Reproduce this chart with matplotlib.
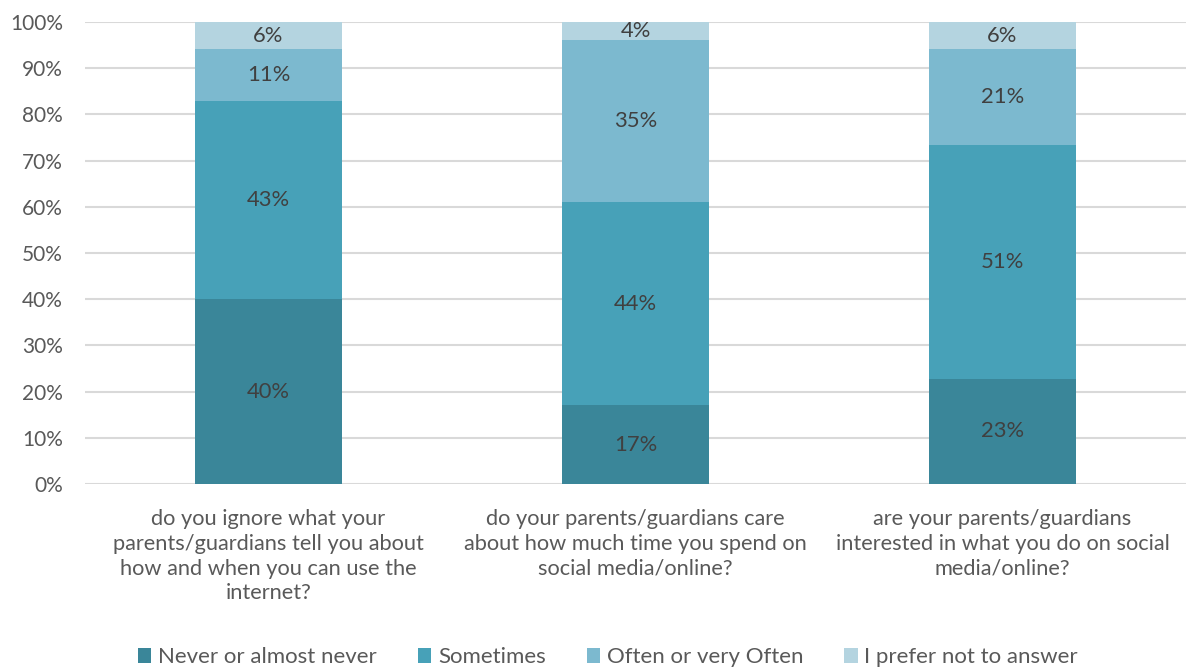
import numpy as np
import matplotlib.pyplot as plt
from matplotlib.ticker import PercentFormatter

# data (percent)
categories = [
    "do you ignore what your\nparents/guardians tell you about\nhow and when you can use the\ninternet?",
    "do your parents/guardians care\nabout how much time you spend on\nsocial media/online?",
    "are your parents/guardians\ninterested in what you do on social\nmedia/online?",
]
series_names = ["Never or almost never", "Sometimes", "Often or very Often", "I prefer not to answer"]
never = [40.0, 17.0, 22.8]
sometimes = [42.9, 44.0, 50.6]
often = [11.2, 35.0, 20.7]
no_answer = [5.9, 4.0, 5.9]
colors = ["#3A8699", "#47A1B8", "#7CB9CF", "#B4D4E0"]

plt.rcParams['font.family'] = ['Lato', 'DejaVu Sans']

fig = plt.figure(figsize=(11.88, 6.71), dpi=100)
ax = fig.add_axes([85 / 1188, 1 - 484 / 671, 1101 / 1188, 462 / 671])

x = np.arange(len(categories))
bottom = np.zeros(len(categories))
for name, vals, col in zip(series_names, [never, sometimes, often, no_answer], colors):
    vals = np.array(vals)
    ax.bar(x, vals, width=0.4, bottom=bottom, color=col, label=name, zorder=3)
    for xi, b, v in zip(x, bottom, vals):
        ax.text(xi, b + v / 2, f"{v:.0f}%", ha='center', va='center',
                fontsize=15.8, color='#404040', zorder=4)
    bottom += vals

ax.set_xlim(-0.5, len(categories) - 0.5)
ax.set_ylim(0, 100)
ax.set_yticks(np.arange(0, 101, 10))
ax.yaxis.set_major_formatter(PercentFormatter(decimals=0))
ax.grid(axis='y', color='#D9D9D9', linewidth=1.5, zorder=0)
for s in ax.spines.values():
    s.set_visible(False)
ax.tick_params(axis='y', length=0, labelsize=15, labelcolor='#595959', pad=16)
ax.tick_params(axis='x', length=0, labelsize=15.7, labelcolor='#595959', pad=18)
ax.set_xticks(x)
ax.set_xticklabels(categories, linespacing=1.3)

ax.legend(loc='lower center', bbox_to_anchor=(0.475, -0.44), ncol=4, frameon=False,
          fontsize=16, labelcolor='#595959', handlelength=0.6, handleheight=0.6,
          handletextpad=0.3, columnspacing=1.85)

fig.savefig("out.png", dpi=100)
